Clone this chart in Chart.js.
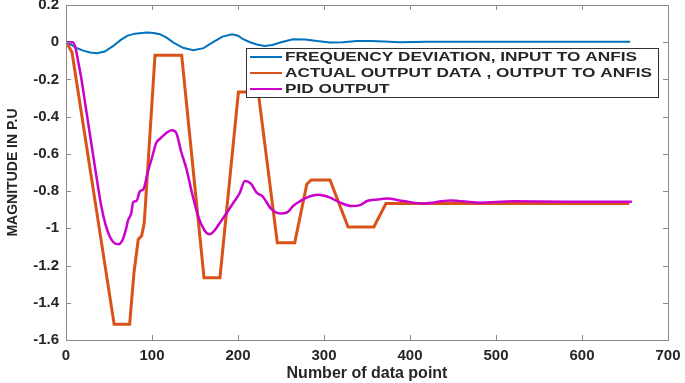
<!DOCTYPE html>
<html>
<head>
<meta charset="utf-8">
<script src="https://cdn.jsdelivr.net/npm/chart.js@4/dist/chart.umd.min.js"></script>
<style>
  html, body { margin: 0; padding: 0; background: #fff; }
  canvas { display: block; }
</style>
</head>
<body>
<canvas id="chart" width="685" height="383"></canvas>
<script>
// --- DATA ---
const xTickValues = [0, 100, 200, 300, 400, 500, 600, 700];
const yTickValues = [0.2, 0, -0.2, -0.4, -0.6, -0.8, -1, -1.2, -1.4, -1.6];
const yTickLabels = ['0.2', '0', '-0.2', '-0.4', '-0.6', '-0.8', '-1', '-1.2', '-1.4', '-1.6'];

const seriesNames = [
    'FREQUENCY DEVIATION, INPUT TO ANFIS',
    'ACTUAL OUTPUT DATA , OUTPUT TO ANFIS',
    'PID OUTPUT'
];

// frequency deviation
const freqX = [0, 5, 12, 20, 28, 36, 45, 55, 63, 71, 80, 94, 102, 109, 117, 125, 136, 148, 160, 171,
    182, 193, 200, 206, 214, 222, 231, 240, 250, 264, 278, 292, 307, 322, 338, 354, 370, 388, 420,
    460, 500, 560, 620, 656];
const freqY = [0, -0.01, -0.03, -0.045, -0.055, -0.059, -0.05, -0.02, 0.01, 0.034, 0.046, 0.052, 0.05,
    0.043, 0.025, -0.002, -0.03, -0.043, -0.032, 0, 0.03, 0.043, 0.035, 0.016, 0, -0.012, -0.02,
    -0.015, 0, 0.016, 0.015, 0.006, -0.002, 0, 0.006, 0.007, 0.004, 0, 0.002, 0.003, 0.002, 0.003,
    0.003, 0.003];

// actual output data
const actualX = [0, 3, 7, 56, 74, 79, 84, 88, 91, 103.5, 134.5, 160.5, 179, 200.5, 223.5, 245.7, 266,
    280, 285, 307, 328, 358, 372, 655];
const actualY = [-0.01, -0.02, -0.055, -1.516, -1.516, -1.24, -1.06, -1.04, -0.97, -0.07, -0.07,
    -1.265, -1.265, -0.267, -0.267, -1.077, -1.077, -0.763, -0.74, -0.74, -0.993, -0.993, -0.867,
    -0.867];

// PID output
const pidX = [0, 8, 11, 14, 18, 24, 30, 36, 41, 46, 51, 56, 61, 66, 70, 72, 76, 78, 82, 86, 90, 95,
    100, 105, 109, 116, 123, 128, 134, 140, 147, 154, 161, 167, 173, 179, 187, 195, 202, 208, 215,
    222, 228, 239, 249, 257, 264, 272, 280, 293, 307, 319, 332, 342, 350, 362, 373, 392, 415, 447,
    481, 520, 580, 658];
const pidY = [0, 0, -0.03, -0.1, -0.2, -0.38, -0.56, -0.74, -0.88, -0.98, -1.045, -1.078, -1.086,
    -1.06, -1.0, -0.96, -0.916, -0.86, -0.853, -0.8, -0.79, -0.7, -0.62, -0.54, -0.52, -0.49, -0.473,
    -0.486, -0.59, -0.68, -0.82, -0.94, -1.01, -1.032, -1.01, -0.97, -0.916, -0.86, -0.81, -0.745,
    -0.76, -0.81, -0.826, -0.897, -0.92, -0.915, -0.88, -0.855, -0.835, -0.82, -0.835, -0.862, -0.88,
    -0.875, -0.853, -0.845, -0.84, -0.853, -0.866, -0.85, -0.862, -0.855, -0.857, -0.857];

const toPoints = (xs, ys) => xs.map((x, i) => ({ x, y: ys[i] }));

const textColor = '#262626';
const axisColor = '#8a8a8a';
const fontFamily = '"Liberation Sans", Arial, sans-serif';

// --- PLUGIN: matlab style box with inward ticks ---
const boxTicks = {
    id: 'boxTicks',
    afterDatasetsDraw(chart) {
        const { ctx, chartArea: a, scales } = chart;
        const len = 5;
        ctx.save();
        ctx.strokeStyle = axisColor;
        ctx.lineWidth = 1;
        ctx.strokeRect(a.left + 0.5, a.top + 0.5, a.right - a.left, a.bottom - a.top);
        ctx.beginPath();
        xTickValues.forEach(v => {
            const px = Math.round(scales.x.getPixelForValue(v)) + 0.5;
            ctx.moveTo(px, a.bottom); ctx.lineTo(px, a.bottom - len);
            ctx.moveTo(px, a.top); ctx.lineTo(px, a.top + len);
        });
        yTickValues.forEach(v => {
            const py = Math.round(scales.y.getPixelForValue(v)) + 0.5;
            ctx.moveTo(a.left, py); ctx.lineTo(a.left + len, py);
            ctx.moveTo(a.right, py); ctx.lineTo(a.right - len, py);
        });
        ctx.stroke();
        ctx.restore();
    }
};

// --- PLUGIN: legend box inside the plot ---
const boxLegend = {
    id: 'boxLegend',
    afterDraw(chart) {
        const { ctx } = chart;
        const left = 246, top = 48, width = 412, height = 49;
        const rowH = 16;
        ctx.save();
        ctx.fillStyle = '#fff';
        ctx.fillRect(left, top, width, height);
        ctx.strokeStyle = '#333';
        ctx.lineWidth = 1;
        ctx.strokeRect(left + 0.5, top + 0.5, width, height);

        ctx.font = 'bold 12px ' + fontFamily;
        const sx = 352 / ctx.measureText(chart.data.datasets[0].label).width;
        chart.data.datasets.forEach((ds, i) => {
            const y = top + 9 + i * rowH;
            ctx.strokeStyle = ds.borderColor;
            ctx.lineWidth = 2;
            ctx.beginPath();
            ctx.moveTo(left + 4, y); ctx.lineTo(left + 36, y);
            ctx.stroke();
            ctx.save();
            ctx.translate(left + 39, y);
            ctx.scale(sx, 1);
            ctx.fillStyle = textColor;
            ctx.textBaseline = 'middle';
            ctx.fillText(ds.label, 0, 1);
            ctx.restore();
        });
        ctx.restore();
    }
};

new Chart(document.getElementById('chart'), {
    type: 'line',
    data: {
        datasets: [
            { label: seriesNames[0], data: toPoints(freqX, freqY), borderColor: '#0072BD', borderWidth: 2, order: 2 },
            { label: seriesNames[1], data: toPoints(actualX, actualY), borderColor: '#D95319', borderWidth: 3, order: 1 },
            { label: seriesNames[2], data: toPoints(pidX, pidY), borderColor: '#CC00CC', borderWidth: 2.5, order: 0, cubicInterpolationMode: 'monotone' }
        ]
    },
    options: {
        responsive: false,
        animation: false,
        layout: { padding: { left: 0, right: 17, top: 5, bottom: 0 } },
        elements: { point: { radius: 0 }, line: { tension: 0 } },
        plugins: { legend: { display: false }, tooltip: { enabled: false } },
        scales: {
            x: {
                type: 'linear',
                min: 0,
                max: 700,
                afterBuildTicks: s => { s.ticks = xTickValues.map(v => ({ value: v })); },
                afterFit: s => { s.height = 43; s.paddingLeft = 0; s.paddingRight = 0; },
                grid: { drawOnChartArea: false, drawTicks: false },
                border: { display: false },
                ticks: { color: textColor, padding: 7, maxRotation: 0, font: { family: fontFamily, size: 15, weight: 'bold' } },
                title: {
                    display: true,
                    text: 'Number of data point',
                    color: textColor,
                    padding: { top: 0, bottom: 0 },
                    font: { family: fontFamily, size: 16, weight: 'bold' }
                }
            },
            y: {
                min: -1.6,
                max: 0.2,
                afterBuildTicks: s => { s.ticks = yTickValues.map(v => ({ value: v })); },
                afterFit: s => { s.width = 66; s.paddingTop = 0; s.paddingBottom = 0; },
                grid: { drawOnChartArea: false, drawTicks: false },
                border: { display: false },
                ticks: {
                    color: textColor,
                    padding: 7,
                    font: { family: fontFamily, size: 15, weight: 'bold' },
                    callback: (v, i) => yTickLabels[i]
                },
                title: {
                    display: true,
                    text: 'MAGNITUDE IN P.U',
                    color: textColor,
                    padding: { top: 5, bottom: 0 },
                    font: { family: fontFamily, size: 14, weight: 'bold' }
                }
            }
        }
    },
    plugins: [boxTicks, boxLegend]
});
</script>
</body>
</html>
